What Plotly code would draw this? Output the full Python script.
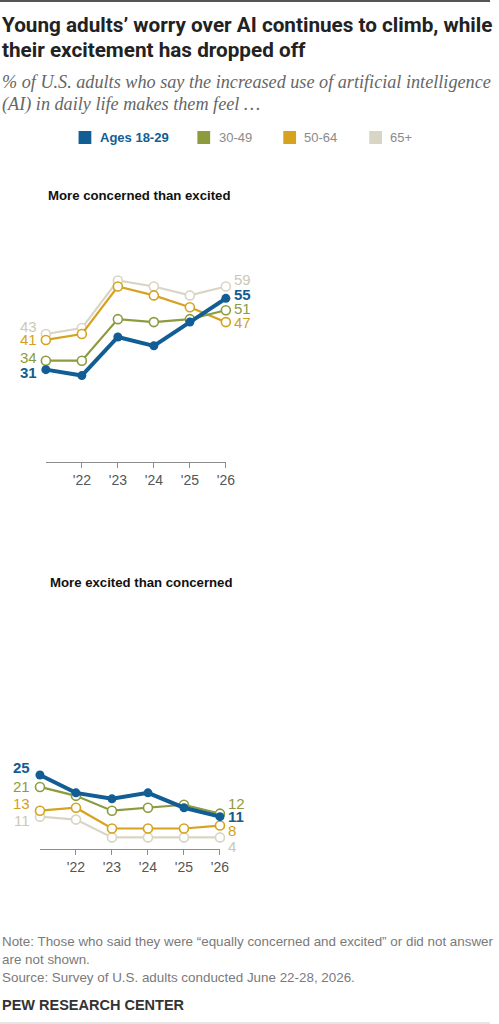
import plotly.graph_objects as go

# ── Data ──
years = [2021, 2022, 2023, 2024, 2025, 2026]
tick_years = [2022, 2023, 2024, 2025, 2026]
tick_text = ["'22", "'23", "'24", "'25", "'26"]

groups = ["Ages 18-29", "30-49", "50-64", "65+"]

concerned_18_29 = [31, 29, 42, 39, 47, 55]
concerned_30_49 = [34, 34, 48, 47, 48, 51]
concerned_50_64 = [41, 43, 59, 56, 52, 47]
concerned_65 = [43, 45, 61, 59, 56, 59]

excited_18_29 = [25, 19, 17, 19, 14, 11]
excited_30_49 = [21, 18, 13, 14, 15, 12]
excited_50_64 = [13, 14, 7, 7, 7, 8]
excited_65 = [11, 10, 4, 4, 4, 4]

# ── Style ──
BLUE = "#115D94"
OLIVE = "#8D9B3E"
GOLD = "#D6A21F"
BEIGE = "#D9D5C4"
COLORS = [BLUE, OLIVE, GOLD, BEIGE]
LABEL_COLORS = [BLUE, "#8D9B3E", "#D39F1E", "#CDC8B6"]
W, H = 499, 1024


def fx(px):
    return px / W


def fy(py):
    return 1 - py / H


fig = go.Figure()

panels = [
    ("x", "y", [concerned_18_29, concerned_30_49, concerned_50_64, concerned_65]),
    ("x2", "y2", [excited_18_29, excited_30_49, excited_50_64, excited_65]),
]

# draw oldest group first so the young-adult line sits on top
for xr, yr, series in panels:
    for i in [3, 2, 1, 0]:
        bold = i == 0
        fig.add_trace(go.Scatter(
            x=years, y=series[i], xaxis=xr, yaxis=yr,
            mode="lines+markers", showlegend=False, cliponaxis=False,
            line=dict(color=COLORS[i], width=4 if bold else 2.2),
            marker=dict(size=9, color=COLORS[i] if bold else "white",
                        line=dict(color=COLORS[i], width=0 if bold else 1.6)),
            hoverinfo="skip",
        ))

# end labels: pixel nudges (left yshift, right yshift) per group
nudges = {
    "x": dict(left=[-3, 3, 0, 7], right=[4, 2, 0, 7], lx=-8, rx=7),
    "x2": dict(left=[8, 0, 7, -4], right=[0, 10, -5, -9], lx=-9, rx=7),
}

annotations = []
for xr, yr, series in panels:
    nd = nudges[xr]
    for i in range(4):
        vals = series[i]
        font = dict(family="Liberation Sans, Arial", size=15, color=LABEL_COLORS[i])
        if i == 0:
            font = dict(family="Liberation Sans, Arial", size=15, color=BLUE, weight="bold")
        annotations.append(dict(
            x=years[0], y=vals[0], xref=xr, yref=yr, text=str(vals[0]),
            showarrow=False, xanchor="right", yanchor="middle", borderpad=0,
            xshift=nd["lx"], yshift=nd["left"][i], font=font,
        ))
        annotations.append(dict(
            x=years[-1], y=vals[-1], xref=xr, yref=yr, text=str(vals[-1]),
            showarrow=False, xanchor="left", yanchor="middle", borderpad=0,
            xshift=nd["rx"], yshift=nd["right"][i], font=font,
        ))

# title, subtitle
title_font = dict(family="Roboto, Liberation Sans", size=20.7, color="#222222", weight="bold")
for txt, py in [("Young adults’ worry over AI continues to climb, while", 25),
                ("their excitement has dropped off", 50)]:
    annotations.append(dict(x=0, y=fy(py), xref="paper", yref="paper", text=txt,
                            showarrow=False, xanchor="left", yanchor="middle", font=title_font))

sub_font = dict(family="Liberation Serif, Georgia, serif", size=18.2, color="#666666", style="italic")
for txt, py in [("% of U.S. adults who say the increased use of artificial intelligence", 82),
                ("(AI) in daily life makes them feel …", 104)]:
    annotations.append(dict(x=0, y=fy(py), xref="paper", yref="paper", text=txt,
                            showarrow=False, xanchor="left", yanchor="middle", font=sub_font))

# legend
shapes = []
legend_items = [(80, 100), (201, 220.5), (288.5, 308), (376, 395)]
for i, (sq, tx) in enumerate(legend_items):
    shapes.append(dict(type="rect", xref="paper", yref="paper",
                       x0=fx(sq), x1=fx(sq + 13), y0=fy(144), y1=fy(131),
                       fillcolor=COLORS[i], line=dict(width=0)))
    lf = dict(family="Liberation Sans, Arial", size=13, color="#8a8a8a")
    if i == 0:
        lf = dict(family="Liberation Sans, Arial", size=13, color=BLUE, weight="bold")
    annotations.append(dict(x=fx(tx), y=fy(137.5), xref="paper", yref="paper", text=groups[i],
                            showarrow=False, xanchor="left", yanchor="middle", font=lf))

# panel titles
pt_font = dict(family="Liberation Sans, Arial", size=13.2, color="#111111", weight="bold")
for txt, px, py in [("More concerned than excited", 46.5, 195), ("More excited than concerned", 49, 582)]:
    annotations.append(dict(x=fx(px), y=fy(py), xref="paper", yref="paper", text=txt,
                            showarrow=False, xanchor="left", yanchor="middle", font=pt_font))

# notes
note_font = dict(family="Liberation Sans, Arial", size=13.4, color="#7a7a7a")
for txt, py in [("Note: Those who said they were “equally concerned and excited” or did not answer", 941),
                ("are not shown.", 959),
                ("Source: Survey of U.S. adults conducted June 22-28, 2026.", 977)]:
    annotations.append(dict(x=0, y=fy(py), xref="paper", yref="paper", text=txt,
                            showarrow=False, xanchor="left", yanchor="middle", font=note_font))
annotations.append(dict(x=0, y=fy(1005), xref="paper", yref="paper", text="PEW RESEARCH CENTER",
                        showarrow=False, xanchor="left", yanchor="middle",
                        font=dict(family="Liberation Sans, Arial", size=14.5, color="#333333", weight="bold")))

# rules top and bottom
shapes.append(dict(type="line", xref="paper", yref="paper", x0=0, x1=1, y0=fy(1), y1=fy(1),
                   line=dict(color="#555555", width=2)))
shapes.append(dict(type="line", xref="paper", yref="paper", x0=0, x1=1, y0=fy(1023), y1=fy(1023),
                   line=dict(color="#cccccc", width=1)))

xaxis_style = dict(range=[years[0], years[-1]], tickvals=tick_years, ticktext=tick_text,
                   ticks="outside", ticklen=5, tickcolor="#8c8c8c", showline=True,
                   linecolor="#8c8c8c", linewidth=1, showgrid=False, zeroline=False,
                   tickfont=dict(family="Liberation Sans, Arial", size=14, color="#555555"),
                   fixedrange=True)
yaxis_style = dict(range=[0, 70], visible=False, showgrid=False, zeroline=False, fixedrange=True)

fig.update_layout(
    width=W, height=H, margin=dict(l=0, r=0, t=0, b=0),
    paper_bgcolor="white", plot_bgcolor="white",
    xaxis=dict(domain=[fx(46.7), fx(230)], anchor="y", **xaxis_style),
    yaxis=dict(domain=[fy(461.7), fy(253.8)], anchor="x", **yaxis_style),
    xaxis2=dict(domain=[fx(40.7), fx(224)], anchor="y2", **xaxis_style),
    yaxis2=dict(domain=[fy(849.3), fy(641.4)], anchor="x2", **yaxis_style),
    annotations=annotations, shapes=shapes, showlegend=False,
)

# drop the browser's default body margin and scrollbars so the chart sits at the page corner
fig.write_html("out.html", config={"displayModeBar": False},
               post_script="document.body.style.margin='0';document.body.style.overflow='hidden';"
                           "document.documentElement.style.overflow='hidden';")
